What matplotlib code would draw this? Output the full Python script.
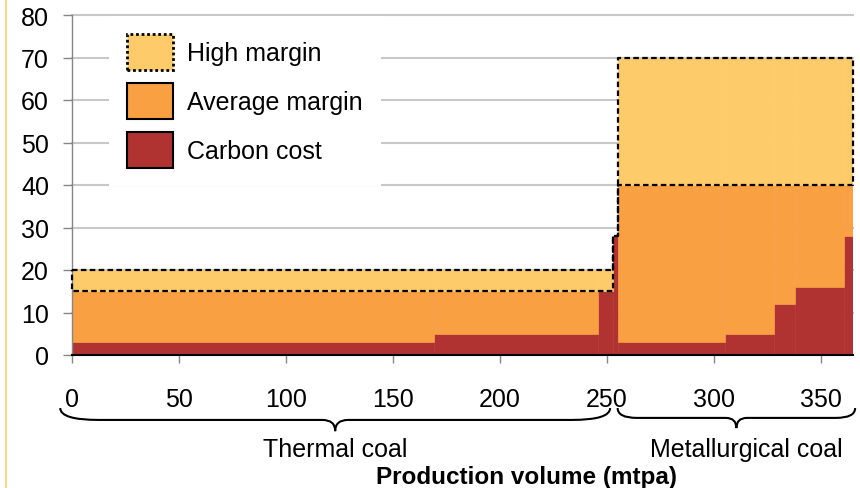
import numpy as np
import matplotlib
matplotlib.use('Agg')
import matplotlib.pyplot as plt
import matplotlib.patches as mpatches
from matplotlib.lines import Line2D
from matplotlib.path import Path
from matplotlib.transforms import blended_transform_factory

plt.rcParams['font.family'] = ['Liberation Sans', 'DejaVu Sans']

# Datos: bloques de producción (mtpa) y márgenes ($/t)
edges = [0, 169, 246, 253, 255, 305, 328, 338, 361, 365]
carbon_cost = [3, 5, 15, 28, 3, 5, 12, 16, 28]
average_margin = [15, 15, 15, 28, 40, 40, 40, 40, 40]
high_margin = [20, 20, 20, 28, 70, 70, 70, 70, 70]

series_labels = ['High margin', 'Average margin', 'Carbon cost']
groups = ['Thermal coal', 'Metallurgical coal']
group_span = [(-5.5, 251.5), (255, 366)]
group_label_x = [123, 315]

x_ticks = [0, 50, 100, 150, 200, 250, 300, 350]
y_ticks = [0, 10, 20, 30, 40, 50, 60, 70, 80]

c_high = '#FECB6B'
c_avg = '#F8A042'
c_carbon = '#B03331'
c_grid = '#C8C8C8'
c_tick = '#868686'

fig = plt.figure(figsize=(8.6, 4.89), dpi=100)
ax = fig.add_axes([72 / 860, 133 / 489, 781 / 860, 340 / 489])

left = np.array(edges[:-1])
widths = np.diff(edges)
carbon = np.array(carbon_cost)
avg = np.array(average_margin)
high = np.array(high_margin)

ax.bar(left, carbon, width=widths, align='edge', color=c_carbon,
       edgecolor=c_carbon, lw=0.4, zorder=2)
ax.bar(left, avg - carbon, bottom=carbon, width=widths, align='edge',
       color=c_avg, edgecolor=c_avg, lw=0.4, zorder=2)
ax.bar(left, high - avg, bottom=avg, width=widths, align='edge',
       color=c_high, edgecolor=c_high, lw=0.4, zorder=2)

# contorno discontinuo del margen alto
xs = np.repeat(edges, 2)[1:-1]
up = np.repeat(high, 2)
lo = np.repeat(avg, 2)
px = np.concatenate([xs, xs[::-1], xs[:1]])
py = np.concatenate([up, lo[::-1], up[:1]])
ax.plot(px, py, color='black', lw=1.6, ls=(0, (2.5, 1.5)), zorder=4, clip_on=False)

ax.set_xlim(0, 365)
ax.set_ylim(0, 80)
ax.set_xticks(x_ticks)
ax.set_yticks(y_ticks)
ax.tick_params(axis='x', length=5.8, width=1, color=c_tick, pad=17, labelsize=18)
ax.tick_params(axis='y', length=6.5, width=1, color=c_tick, pad=10, labelsize=18)

ax.set_axisbelow(True)
ax.yaxis.grid(True, color=c_grid, lw=1.5)
for gl in ax.get_ygridlines():
    gl.set_clip_on(False)

ax.spines['top'].set_visible(False)
ax.spines['right'].set_visible(False)
ax.spines['left'].set_color(c_tick)
ax.spines['left'].set_linewidth(1)
ax.spines['bottom'].set_color('black')
ax.spines['bottom'].set_linewidth(1.5)
ax.spines['bottom'].set_zorder(5)

# leyenda
h_high = mpatches.Patch(facecolor=c_high, edgecolor='black', lw=2, linestyle=(0, (1, 1)))
h_avg = mpatches.Patch(facecolor=c_avg, edgecolor='black', lw=1.5)
h_carbon = mpatches.Patch(facecolor=c_carbon, edgecolor='black', lw=1.5)
leg = ax.legend([h_high, h_avg, h_carbon], series_labels, loc='upper left',
                bbox_to_anchor=(0.0474, 0.997), borderaxespad=0, borderpad=0.72,
                fontsize=18, handlelength=1.84, handleheight=1.84,
                handletextpad=0.56, labelspacing=0.52, frameon=True,
                fancybox=False)
leg.get_frame().set_facecolor('white')
leg.get_frame().set_edgecolor('none')
leg.get_frame().set_alpha(1)
leg.set_zorder(6)

# llaves bajo el eje
trans = blended_transform_factory(ax.transData, ax.transAxes)


def llave(x0, x1, y_top, y_mid, y_tip, r, r_tip):
    xm = (x0 + x1) / 2
    verts = [(x0, y_top), (x0, y_mid), (x0 + r, y_mid),
             (xm - r_tip, y_mid),
             (xm, y_mid), (xm, y_tip),
             (xm, y_mid), (xm + r_tip, y_mid),
             (x1 - r, y_mid),
             (x1, y_mid), (x1, y_top)]
    codes = [Path.MOVETO, Path.CURVE3, Path.CURVE3,
             Path.LINETO,
             Path.CURVE3, Path.CURVE3,
             Path.CURVE3, Path.CURVE3,
             Path.LINETO,
             Path.CURVE3, Path.CURVE3]
    patch = mpatches.PathPatch(Path(verts, codes), fill=False, lw=1.5,
                               edgecolor='black', transform=trans, clip_on=False)
    ax.add_patch(patch)


llave(group_span[0][0], group_span[0][1], -0.156, -0.191, -0.224, 18, 6)
llave(group_span[1][0], group_span[1][1], -0.156, -0.185, -0.215, 9, 5)

for name, gx in zip(groups, group_label_x):
    ax.text(gx, -0.297, name, transform=trans, ha='center', va='baseline', fontsize=18)

fig.text(526 / 860, 1 - 484 / 489, 'Production volume (mtpa)', ha='center',
         va='baseline', fontweight='bold', fontsize=17.5)

fig.add_artist(Line2D([6 / 860, 6 / 860], [0, 1], color='#FFD58A', lw=1.5,
                      transform=fig.transFigure))

fig.savefig('out.png', dpi=100)
